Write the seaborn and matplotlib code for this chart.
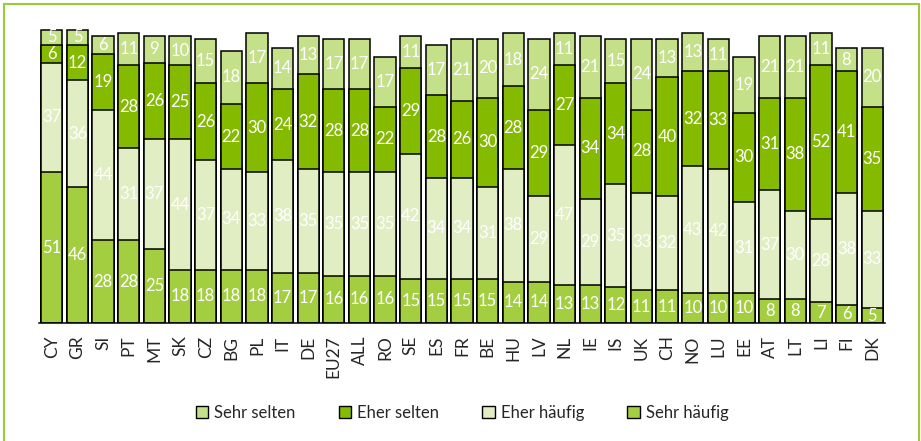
import numpy as np
import pandas as pd
import matplotlib
matplotlib.use("Agg")
import matplotlib.pyplot as plt
from matplotlib.patches import Patch, Rectangle
import seaborn as sns

countries = ["CY", "GR", "SI", "PT", "MT", "SK", "CZ", "BG", "PL", "IT", "DE",
             "EU27", "ALL", "RO", "SE", "ES", "FR", "BE", "HU", "LV", "NL", "IE",
             "IS", "UK", "CH", "NO", "LU", "EE", "AT", "LT", "LI", "FI", "DK"]
sehr_haeufig = [51, 46, 28, 28, 25, 18, 18, 18, 18, 17, 17, 16, 16, 16, 15, 15, 15,
                15, 14, 14, 13, 13, 12, 11, 11, 10, 10, 10, 8, 8, 7, 6, 5]
eher_haeufig = [37, 36, 44, 31, 37, 44, 37, 34, 33, 38, 35, 35, 35, 35, 42, 34, 34,
                31, 38, 29, 47, 29, 35, 33, 32, 43, 42, 31, 37, 30, 28, 38, 33]
eher_selten = [6, 12, 19, 28, 26, 25, 26, 22, 30, 24, 32, 28, 28, 22, 29, 28, 26,
               30, 28, 29, 27, 34, 34, 28, 40, 32, 33, 30, 31, 38, 52, 41, 35]
sehr_selten = [5, 5, 6, 11, 9, 10, 15, 18, 17, 14, 13, 17, 17, 17, 11, 17, 21,
               20, 18, 24, 11, 21, 15, 24, 13, 13, 11, 19, 21, 21, 11, 8, 20]

series_names = ["Sehr häufig", "Eher häufig", "Eher selten", "Sehr selten"]
colors = {"Sehr häufig": "#A3CE40", "Eher häufig": "#E1EDC3",
          "Eher selten": "#84BA00", "Sehr selten": "#C4E088"}

sns.set_style("white")
plt.rcParams["font.family"] = ["Lato", "DejaVu Sans"]
label_font = ["Liberation Sans Narrow", "Lato", "DejaVu Sans"]

df = pd.DataFrame({"land": countries,
                   "Sehr häufig": sehr_haeufig,
                   "Eher häufig": eher_haeufig,
                   "Eher selten": eher_selten,
                   "Sehr selten": sehr_selten})
cum = df[series_names].cumsum(axis=1)

fig = plt.figure(figsize=(9.21, 4.41), dpi=100)
ax = fig.add_axes([39 / 921, 1 - 323 / 441, (885 - 39) / 921, (323 - 27) / 441])

# draw tallest stack first, then overlay the lower ones
for name in reversed(series_names):
    sns.barplot(x=df["land"], y=cum[name], color=colors[name], saturation=1,
                edgecolor="black", linewidth=1.1, width=0.83, ax=ax)

# segment labels
for i in range(len(countries)):
    prev = 0
    for name in series_names:
        v = df[name].iloc[i]
        ax.text(i, prev + v / 2, str(v), ha="center", va="center",
                color="white", fontsize=12, family=label_font)
        prev += v

ax.set_ylim(0, 100)
ax.set_xlim(-0.5, len(countries) - 0.5)
ax.set_xlabel("")
ax.set_ylabel("")
ax.set_yticks([])
for s in ["left", "top", "right"]:
    ax.spines[s].set_visible(False)
ax.spines["bottom"].set_color("black")
ax.spines["bottom"].set_linewidth(1.1)

ax.set_xticks(range(len(countries)))
ax.set_xticklabels(countries, rotation=90, fontsize=12.5)
ax.set_xticks(np.arange(-0.5, len(countries), 1), minor=True)
ax.tick_params(axis="x", which="major", length=0, pad=9)
ax.tick_params(axis="x", which="minor", length=5, width=1, color="black",
               direction="out")

handles = [Patch(facecolor=colors[n], edgecolor="black", linewidth=1)
           for n in reversed(series_names)]
fig.legend(handles, list(reversed(series_names)), loc="center",
           bbox_to_anchor=(462 / 921, 1 - 413 / 441), ncol=4, frameon=False,
           fontsize=12, handlelength=0.75, handleheight=0.75,
           handletextpad=0.35, columnspacing=2.6)

# green frame around the chart
fig.patches.append(Rectangle((4 / 921, -0.05), (919 - 4) / 921, 1 - 4 / 441 + 0.05,
                             transform=fig.transFigure, fill=False,
                             edgecolor="#9BCB3B", linewidth=1.5))

fig.savefig("out.png", dpi=100)
